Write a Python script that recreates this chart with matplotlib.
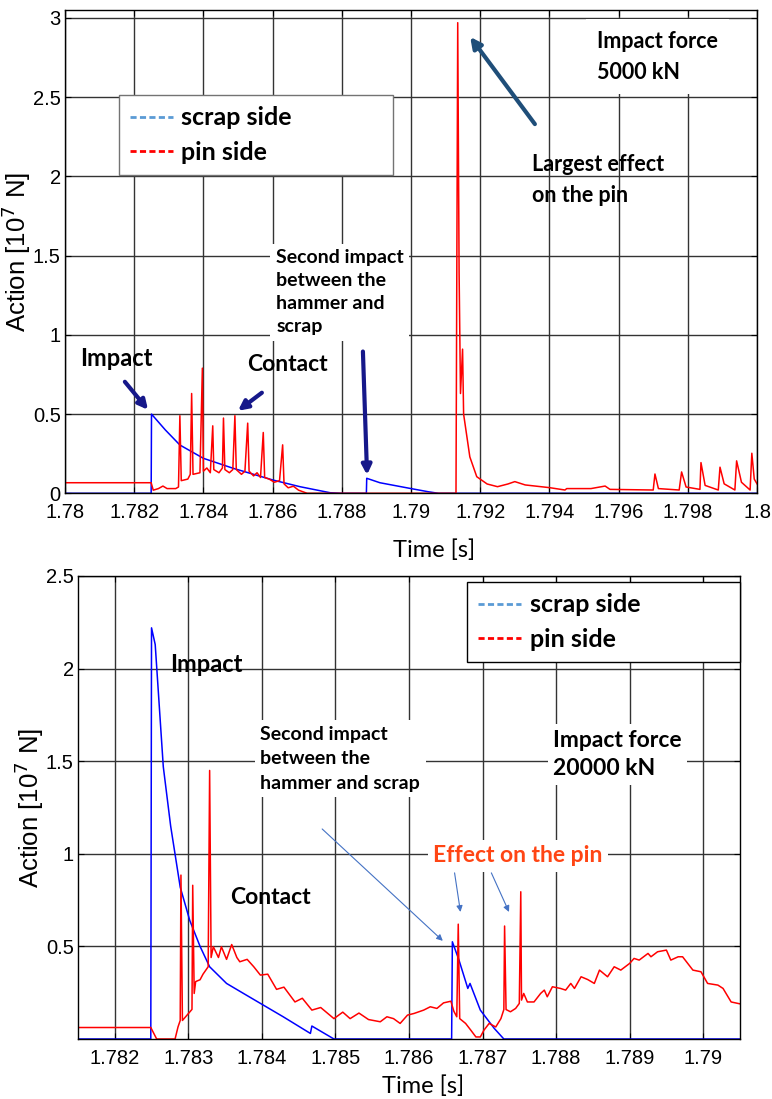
import matplotlib
matplotlib.use("Agg")
import matplotlib.pyplot as plt
from matplotlib.lines import Line2D
from matplotlib.ticker import MultipleLocator, FuncFormatter

# ---- data (time [s], action [1e7 N]) ----
# upper plot : impact force 5000 kN
top_scrap_t = [1.780, 1.78249, 1.78250, 1.7829, 1.78332, 1.7840, 1.78486, 1.78601, 1.78679,
               1.78766, 1.7880, 1.78871, 1.78872, 1.7891, 1.7900, 1.7905, 1.7908, 1.800]
top_scrap_v = [0, 0, 0.50, 0.40, 0.305, 0.221, 0.158, 0.084, 0.042,
               0.004, 0, 0, 0.095, 0.067, 0.03, 0.01, 0, 0]

top_pin_t = [1.780, 1.78249, 1.78255, 1.78270, 1.78283, 1.78295, 1.78320, 1.78328, 1.78332, 1.78336,
             1.78355, 1.78362, 1.78366, 1.78370, 1.78390, 1.78397, 1.78400, 1.78410, 1.78420, 1.78427,
             1.78430, 1.78445, 1.78455, 1.78458, 1.78462, 1.78475, 1.78485, 1.78491, 1.78495, 1.78510,
             1.78520, 1.78528, 1.78532, 1.78545, 1.78555, 1.78565, 1.78573, 1.78577, 1.78590, 1.78605,
             1.78620, 1.78629, 1.78633, 1.78645, 1.78660, 1.78675, 1.78700, 1.79130, 1.79135, 1.79139,
             1.79143, 1.79149, 1.79152, 1.79160, 1.79170, 1.79190, 1.79220, 1.79250, 1.79280, 1.79300,
             1.79330, 1.79400, 1.79445, 1.79450, 1.79520, 1.79561, 1.79575, 1.79700, 1.79705, 1.79715,
             1.79775, 1.79782, 1.79795, 1.79835, 1.79838, 1.79850, 1.79888, 1.79893, 1.79905, 1.79936,
             1.79941, 1.79955, 1.79980, 1.79985, 1.79992, 1.80000]
top_pin_v = [0.067, 0.067, 0.02, 0.03, 0.046, 0.03, 0.03, 0.04, 0.49, 0.08,
             0.09, 0.12, 0.63, 0.12, 0.13, 0.79, 0.14, 0.16, 0.13, 0.426,
             0.15, 0.13, 0.16, 0.475, 0.15, 0.13, 0.15, 0.49, 0.15, 0.12,
             0.14, 0.443, 0.14, 0.11, 0.13, 0.10, 0.384, 0.10, 0.09, 0.07,
             0.08, 0.306, 0.06, 0.035, 0.045, 0.02, 0, 0, 2.97, 1.39,
             0.63, 0.91, 0.50, 0.38, 0.23, 0.105, 0.059, 0.042, 0.059, 0.074,
             0.053, 0.036, 0.021, 0.03, 0.03, 0.046, 0.025, 0.021, 0.122, 0.03,
             0.021, 0.135, 0.04, 0.025, 0.194, 0.05, 0.021, 0.165, 0.06, 0.021,
             0.205, 0.07, 0.021, 0.253, 0.09, 0.06]

# lower plot : impact force 20000 kN
bot_scrap_t = [1.7815, 1.78249, 1.78250, 1.78255, 1.78266, 1.78276, 1.78289, 1.78302, 1.78316,
               1.78329, 1.78352, 1.78375, 1.78402, 1.78429, 1.78466, 1.78468, 1.78498, 1.78658,
               1.78659, 1.78668, 1.78680, 1.78683, 1.78697, 1.78716, 1.78729, 1.7905]
bot_scrap_v = [0, 0, 2.22, 2.13, 1.47, 1.15, 0.82, 0.64, 0.50,
               0.39, 0.30, 0.246, 0.183, 0.12, 0.03, 0.07, 0, 0,
               0.525, 0.426, 0.273, 0.30, 0.156, 0.057, 0, 0]

bot_pin_t = [1.7815, 1.78249, 1.78257, 1.78282, 1.78286, 1.78289, 1.78290, 1.78292, 1.78302, 1.78305,
             1.78306, 1.78308, 1.78310, 1.78316, 1.78320, 1.78327, 1.78329, 1.78331, 1.78334, 1.78341,
             1.78345, 1.78352, 1.78359, 1.78366, 1.78370, 1.78380, 1.78389, 1.78398, 1.78408, 1.78420,
             1.78430, 1.78445, 1.78455, 1.78468, 1.78480, 1.78498, 1.78510, 1.78520, 1.78532, 1.78545,
             1.78561, 1.78570, 1.78579, 1.78588, 1.78598, 1.78607, 1.78620, 1.78629, 1.78638, 1.78647,
             1.78657, 1.78661, 1.78665, 1.78667, 1.78669, 1.78677, 1.78684, 1.78691, 1.78697, 1.78702,
             1.78709, 1.78718, 1.78725, 1.78729, 1.78730, 1.78732, 1.78738, 1.78745, 1.78750, 1.78752,
             1.78753, 1.78756, 1.78761, 1.78770, 1.78779, 1.78784, 1.78788, 1.78795, 1.78806, 1.78813,
             1.78820, 1.78825, 1.78834, 1.78843, 1.78852, 1.78859, 1.78870, 1.78879, 1.78888, 1.78900,
             1.78906, 1.78913, 1.78925, 1.78929, 1.78938, 1.78950, 1.78956, 1.78966, 1.78972, 1.78986,
             1.78997, 1.79006, 1.79020, 1.79027, 1.79038, 1.79052]
bot_pin_v = [0.062, 0.062, 0, 0, 0.065, 0.10, 0.885, 0.10, 0.146, 0.16,
             0.83, 0.246, 0.31, 0.32, 0.35, 0.39, 1.45, 0.44, 0.498, 0.44,
             0.498, 0.43, 0.51, 0.44, 0.417, 0.43, 0.39, 0.345, 0.35, 0.268,
             0.28, 0.20, 0.22, 0.156, 0.17, 0.11, 0.145, 0.11, 0.14, 0.105,
             0.093, 0.12, 0.11, 0.084, 0.129, 0.138, 0.156, 0.174, 0.165, 0.195,
             0.204, 0.15, 0.12, 0.62, 0.11, 0.084, 0.048, 0.011, 0.011, 0.048,
             0.084, 0.065, 0.11, 0.159, 0.61, 0.159, 0.147, 0.165, 0.192, 0.795,
             0.21, 0.246, 0.2, 0.2, 0.246, 0.264, 0.228, 0.282, 0.273, 0.264,
             0.30, 0.273, 0.336, 0.321, 0.30, 0.372, 0.336, 0.39, 0.372, 0.408,
             0.435, 0.426, 0.462, 0.444, 0.471, 0.48, 0.426, 0.444, 0.444, 0.372,
             0.363, 0.30, 0.291, 0.273, 0.20, 0.188]

legend_labels = ["scrap side", "pin side"]

BOLD = dict(family="Lato", weight="bold")
WHITE = dict(facecolor="white", edgecolor="none", pad=4)
NAVY = "#16188a"
NARROW = ["Liberation Sans Narrow", "Liberation Sans"]

fig = plt.figure(figsize=(7.72, 10.99), dpi=100)


def style_axes(ax, xstep, xlim, ylim, ystep, xlab_pos, ylab_pos):
    ax.set_xlim(*xlim)
    ax.set_ylim(*ylim)
    ax.xaxis.set_major_locator(MultipleLocator(xstep))
    ax.yaxis.set_major_locator(MultipleLocator(ystep))
    fmt = FuncFormatter(lambda v, p: "%g" % round(v, 6))
    ax.xaxis.set_major_formatter(fmt)
    ax.yaxis.set_major_formatter(fmt)
    ax.set_axisbelow(True)
    ax.grid(True, color="0.2", lw=1.0)
    ax.tick_params(direction="in", top=True, right=True, length=4, labelsize=14.5, pad=3)
    ax.tick_params(axis="x", pad=7)
    for lab in ax.get_xticklabels() + ax.get_yticklabels():
        lab.set_family(NARROW)
    for s in ax.spines.values():
        s.set_linewidth(1.0)
    ax.set_xlabel("Time [s]", family="Lato", fontsize=17, va="center")
    ax.set_ylabel("Action [10$^{7}$ N]", family=NARROW, fontsize=18.5, va="center")
    ax.xaxis.set_label_coords(*xlab_pos)
    ax.yaxis.set_label_coords(*ylab_pos)


def add_legend(ax, anchor, edge):
    handles = [Line2D([], [], color="#5b9bd5", ls=(0, (2.2, 1.2)), lw=2),
               Line2D([], [], color="#ff0000", ls=(0, (2.2, 1.2)), lw=2)]
    leg = ax.legend(handles, legend_labels, loc="upper left", bbox_to_anchor=anchor, mode="expand",
                    prop=dict(family="Lato", weight="bold", size=18), handlelength=1.7,
                    fancybox=False, framealpha=1, borderaxespad=0, labelspacing=0.45,
                    handletextpad=0.35, borderpad=0.45)
    leg.get_frame().set_edgecolor(edge)
    leg.get_frame().set_linewidth(1.0)


# ---------------- upper plot ----------------
ax1 = fig.add_axes([0.0842, 0.5511, 0.8964, 0.4398])
ax1.plot(top_scrap_t, top_scrap_v, color="#0000ff", lw=1.1)
ax1.plot(top_pin_t, top_pin_v, color="#ff0000", lw=1.1)
style_axes(ax1, 0.002, (1.78, 1.80), (0, 3.05), 0.5, (0.533, -0.117), (-0.07, 0.5))
add_legend(ax1, (0.078, 0.663, 0.396, 0.161), "0.45")

ax1.text(1.78043, 0.854, "Impact", va="center", fontsize=17, **BOLD)
ax1.text(1.78526, 0.81, "Contact", va="center", fontsize=16.5, **BOLD)
ax1.text(1.7861, 1.54, "Second impact\nbetween the\nhammer and\nscrap", va="top", fontsize=14,
         linespacing=1.42, bbox=WHITE, **BOLD)
ax1.text(1.79538, 2.92, "Impact force\n5000 kN", va="top", fontsize=15.5, linespacing=1.6,
         bbox=dict(facecolor="white", edgecolor="none", pad=8), **BOLD)
ax1.text(1.7935, 2.14, "Largest effect\non the pin", va="top", fontsize=15.5, linespacing=1.6, **BOLD)

arrow_top = dict(arrowstyle="-|>", color=NAVY, lw=3, mutation_scale=14, shrinkA=0, shrinkB=0)
ax1.annotate("", xy=(1.78240, 0.527), xytext=(1.78173, 0.704), arrowprops=arrow_top)
ax1.annotate("", xy=(1.78500, 0.521), xytext=(1.78569, 0.635), arrowprops=arrow_top)
ax1.annotate("", xy=(1.78873, 0.116), xytext=(1.78861, 0.895), arrowprops=arrow_top)
ax1.annotate("", xy=(1.79171, 2.88), xytext=(1.79358, 2.33),
             arrowprops=dict(arrowstyle="-|>", color="#1f4e79", lw=3, mutation_scale=16,
                             shrinkA=0, shrinkB=0))

# ---------------- lower plot ----------------
ax2 = fig.add_axes([0.1010, 0.0546, 0.8575, 0.4213])
ax2.plot(bot_scrap_t, bot_scrap_v, color="#0000ff", lw=1.1)
ax2.plot(bot_pin_t, bot_pin_v, color="#ff0000", lw=1.1)
style_axes(ax2, 0.001, (1.7815, 1.7905), (0, 2.5), 0.5, (0.521, -0.1015), (-0.074, 0.5))
ax2.set_yticks([0.5, 1, 1.5, 2, 2.5])
add_legend(ax2, (0.588, 0.819, 0.412, 0.168), "black")

ax2.text(1.78275, 2.02, "Impact", va="center", fontsize=17, **BOLD)
ax2.text(1.78357, 0.766, "Contact", va="center", fontsize=16.5, **BOLD)
ax2.text(1.78398, 1.69, "Second impact\nbetween the\nhammer and scrap", va="top", fontsize=14,
         linespacing=1.52, bbox=WHITE, **BOLD)
ax2.text(1.78796, 1.67, "Impact force\n20000 kN", va="top", fontsize=16.5, linespacing=1.45,
         bbox=WHITE, **BOLD)
ax2.text(1.78633, 0.99, "Effect on the pin", va="center", fontsize=16.5, color="#ff4514",
         bbox=WHITE, **BOLD)

arrow_bot = dict(arrowstyle="-|>", color="#4472c4", lw=0.8, mutation_scale=9, shrinkA=0, shrinkB=0)
ax2.annotate("", xy=(1.78646, 0.53), xytext=(1.78482, 1.134), arrowprops=arrow_bot)
ax2.annotate("", xy=(1.78670, 0.686), xytext=(1.78662, 0.897), arrowprops=arrow_bot)
ax2.annotate("", xy=(1.78736, 0.686), xytext=(1.78712, 0.897), arrowprops=arrow_bot)

fig.savefig("out.png", dpi=100)
